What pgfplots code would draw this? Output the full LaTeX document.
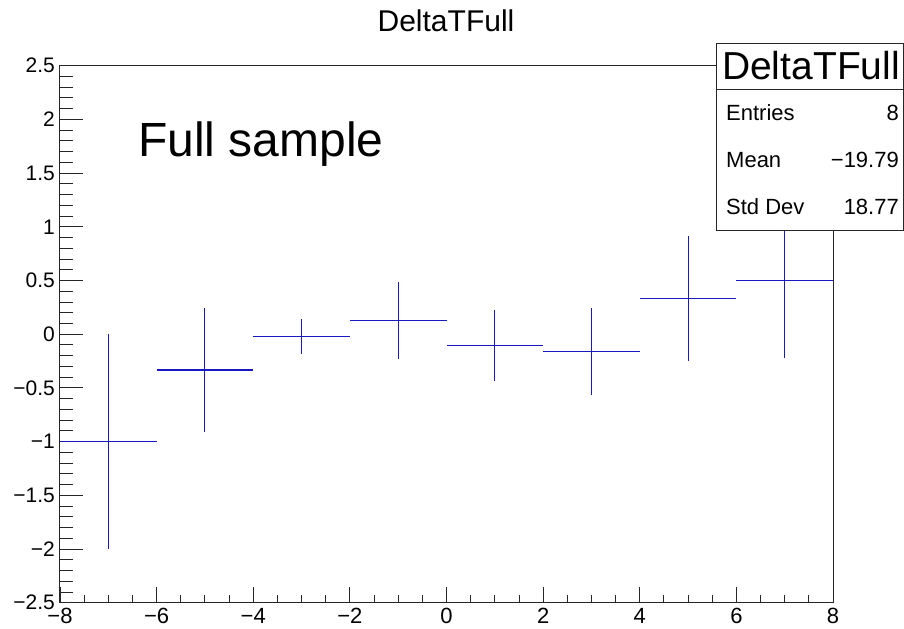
\documentclass[border=0pt]{standalone}
\usepackage{pgfplots}
\pgfplotsset{compat=1.18}
\usepackage{fontspec}
\setmainfont{Liberation Sans}
\definecolor{rootblue}{RGB}{25,25,195}
\begin{document}
\begin{tikzpicture}
\path[use as bounding box] (0,0) rectangle (904bp,629bp);
\begin{axis}[
  at={(60bp,26.3bp)}, anchor=south west,
  width=773bp, height=537bp, scale only axis,
  xmin=-8, xmax=8, ymin=-2.5, ymax=2.5,
  axis line style={line width=1bp, black!85},
  tick pos=left, tick align=inside,
  xtick={-8,-6,-4,-2,0,2,4,6,8},
  xticklabels={−8,−6,−4,−2,0,2,4,6,8},
  ytick={-2.5,-2,-1.5,-1,-0.5,0,0.5,1,1.5,2,2.5},
  yticklabels={−2.5,−2,−1.5,−1,−0.5,0,0.5,1,1.5,2,2.5},
  minor x tick num=3, minor y tick num=4,
  xtick style={line width=0.9bp, black!85, /pgfplots/major tick length=16bp, /pgfplots/minor tick length=8bp},
  ytick style={line width=0.9bp, black!85, /pgfplots/major tick length=23bp, /pgfplots/minor tick length=13bp},
  xticklabel style={font=\fontsize{22bp}{24bp}\selectfont, anchor=north, inner sep=0pt, yshift=-5bp},
  yticklabel style={font=\fontsize{21bp}{24bp}\selectfont, anchor=east, inner sep=0pt, xshift=-5bp},
  clip=false,
]
\addplot[draw=none, mark=none,
  error bars/.cd, x dir=both, x explicit, y dir=both, y explicit,
  error mark=none, error bar style={draw=rootblue, line width=1.1bp}]
  table[x=x, y=y, x error=ex, y error=ey] {
  x  y      ex ey
  -7 -1.0   1  1.0
  -5 -0.333 1  0.58
  -3 -0.025 1  0.162
  -1 0.125  1  0.36
  1  -0.105 1  0.33
  3  -0.16  1  0.405
  5  0.333  1  0.58
  7  0.5    1  0.72
  };
\end{axis}
\node[anchor=base, inner sep=0pt, font=\fontsize{30bp}{32bp}\selectfont] at (446bp,597.3bp) {DeltaTFull};
\node[anchor=base west, inner sep=0pt, font=\fontsize{48bp}{50bp}\selectfont] at (138bp,472.3bp) {Full sample};
\draw[draw=black!85, fill=white, line width=1bp] (716bp,398.3bp) rectangle (903.5bp,585.7bp);
\draw[line width=1bp, black!85] (716bp,539.7bp) -- (903.5bp,539.7bp);
\node[anchor=base, inner sep=0pt, font=\fontsize{39bp}{41bp}\selectfont] at (811bp,549bp) {DeltaTFull};
\begin{scope}[every node/.style={inner sep=0pt, font=\fontsize{22bp}{24bp}\selectfont}]
\node[anchor=base west] at (726bp,508bp) {Entries};
\node[anchor=base east] at (899bp,508bp) {8};
\node[anchor=base west] at (726bp,461bp) {Mean};
\node[anchor=base east] at (899bp,461bp) {−19.79};
\node[anchor=base west] at (726bp,414bp) {Std Dev};
\node[anchor=base east] at (899bp,414bp) {18.77};
\end{scope}
\end{tikzpicture}
\end{document}
